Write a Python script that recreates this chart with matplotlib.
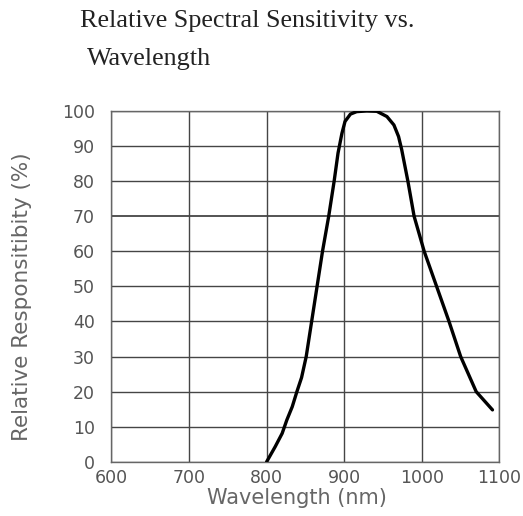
import matplotlib
matplotlib.use("Agg")
import matplotlib.pyplot as plt

# curve
wavelength = [800, 811, 820, 826, 833, 839, 845, 851, 858, 865, 872, 880, 887, 892,
              897, 901, 908, 916, 929, 942, 955, 964, 970, 974, 982, 990, 1003,
              1019, 1035, 1050, 1070, 1091]
response = [0, 4.3, 8.1, 11.9, 15.7, 20, 24, 30, 40, 50, 60, 70, 80, 88,
            93.6, 97, 99.1, 99.8, 100, 99.9, 98.4, 96, 92.7, 89, 80, 70, 60,
            50, 40, 30, 20, 14.8]
xticks = [600, 700, 800, 900, 1000, 1100]
yticks = [0, 10, 20, 30, 40, 50, 60, 70, 80, 90, 100]

fig = plt.figure(figsize=(5.23, 5.16), dpi=100)
ax = fig.add_axes([0.213, 0.105, 0.742, 0.680])

for x in xticks:
    ax.axvline(x, color="#454545", lw=1.0, zorder=1)
for y in yticks:
    ax.axhline(y, color="#454545", lw=1.3 if y == 70 else 1.0, zorder=1)

ax.plot(wavelength, response, color="black", lw=2.4, solid_joinstyle="round",
        solid_capstyle="round", zorder=3)

ax.set_xlim(600, 1100)
ax.set_ylim(0, 100)
ax.set_xticks(xticks)
ax.set_yticks(yticks)
ax.tick_params(length=0, labelsize=12.5, labelcolor="#555555")
ax.tick_params(axis="x", pad=5)
ax.tick_params(axis="y", pad=12)
for s in ax.spines.values():
    s.set_color("#666666")
    s.set_linewidth(1.0)

ax.set_xlabel("Wavelength (nm)", fontsize=15, color="#666666", va="center")
ax.set_ylabel("Relative Responsitibity (%)", fontsize=15.5, color="#666666", va="center")
ax.xaxis.set_label_coords(0.478, -0.104)
ax.yaxis.set_label_coords(-0.231, 0.47)

fig.text(0.153, 0.948, "Relative Spectral Sensitivity vs.", family="Liberation Serif",
         fontsize=18.8, color="#222222", va="baseline")
fig.text(0.166, 0.874, "Wavelength", family="Liberation Serif",
         fontsize=18.8, color="#222222", va="baseline")

fig.savefig("out.png", dpi=100)
